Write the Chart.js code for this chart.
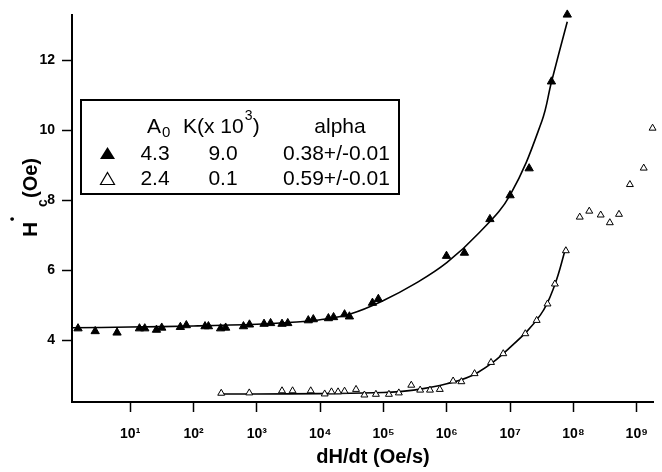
<!DOCTYPE html>
<html lang="en">
<head>
  <meta charset="UTF-8"/>
  <title>Hc vs dH/dt</title>
  <script src="https://cdn.jsdelivr.net/npm/chart.js@4"></script>
  <style>
    html, body { margin: 0; padding: 0; background: #fff; }
    canvas { display: block; }
  </style>
</head>
<body>
  <canvas id="hcChart" width="662" height="472"></canvas>

  <script>
    // sweep rate (Oe/s) and coercive field (Oe)
    const filledRate = [1.5, 2.8, 6.2, 14, 17, 26, 31.5, 62, 77, 152, 172, 268, 322, 615, 765, 1300, 1650,
      2500, 3080, 6500, 7800, 13500, 16300, 24300, 29000, 67000, 83000, 9.9e5, 1.9e6, 4.8e6, 1.0e7, 2.0e7, 4.5e7, 8.0e7];
    const filledHc = [4.34, 4.26, 4.22, 4.34, 4.34, 4.30, 4.36, 4.38, 4.43, 4.40, 4.40, 4.34, 4.36, 4.40, 4.45, 4.47, 4.49,
      4.47, 4.49, 4.57, 4.60, 4.63, 4.66, 4.74, 4.68, 5.07, 5.18, 6.41, 6.50, 7.46, 8.14, 8.91, 11.39, 13.30];

    const openRate = [274, 760, 2500, 3670, 7100, 11800, 15100, 19200, 24300, 36900, 50000, 76000, 122000, 175000,
      275000, 380000, 543000, 776000, 1.26e6, 1.7e6, 2.75e6, 5.0e6, 7.8e6, 1.74e7, 2.63e7, 3.9e7, 5.1e7, 7.6e7,
      1.26e8, 1.78e8, 2.7e8, 3.76e8, 5.25e8, 7.8e8, 1.29e9, 1.78e9];
    const openHc = [2.49, 2.50, 2.56, 2.56, 2.56, 2.47, 2.53, 2.53, 2.55, 2.60, 2.44, 2.46, 2.46, 2.50,
      2.72, 2.58, 2.58, 2.60, 2.84, 2.82, 3.05, 3.37, 3.62, 4.19, 4.57, 5.04, 5.61, 6.56,
      7.52, 7.69, 7.58, 7.36, 7.60, 8.45, 8.92, 10.06];

    // fitted curves
    const fitARate = [1.2, 10, 100, 1e3, 3.16e3, 1e4, 3.16e4, 1e5, 3.16e5, 1e6, 3.16e6, 1e7, 3.16e7, 4.5e7, 8e7];
    const fitAHc = [4.36, 4.38, 4.41, 4.46, 4.51, 4.59, 4.77, 5.14, 5.62, 6.22, 7.05, 8.15, 10.25, 11.38, 13.1];
    const fitBRate = [260, 1e3, 1e4, 1e5, 3e5, 1e6, 3e6, 1e7, 3e7, 5e7, 7.6e7];
    const fitBHc = [2.47, 2.47, 2.48, 2.51, 2.58, 2.76, 3.07, 3.80, 4.72, 5.55, 6.65];

    const xTickValues = [1e1, 1e2, 1e3, 1e4, 1e5, 1e6, 1e7, 1e8, 1e9];
    const yTickValues = [4, 6, 8, 10, 12];

    const legendHead = ['A', 'K(x 10', 'alpha'];
    const legendA0 = ['4.3', '2.4'];
    const legendK = ['9.0', '0.1'];
    const legendAlpha = ['0.38+/-0.01', '0.59+/-0.01'];

    const FONT = "'Liberation Sans', Arial, Helvetica, sans-serif";
    const SUP = '⁰¹²³⁴⁵⁶⁷⁸⁹';

    const pts = (xs, ys) => xs.map((x, i) => ({ x, y: ys[i] }));

    function triangle(ctx, cx, top, w, h, filled) {
      ctx.beginPath();
      ctx.moveTo(cx, top);
      ctx.lineTo(cx + w / 2, top + h);
      ctx.lineTo(cx - w / 2, top + h);
      ctx.closePath();
      if (filled) { ctx.fillStyle = '#000'; ctx.fill(); }
      else { ctx.lineWidth = 1.2; ctx.strokeStyle = '#000'; ctx.stroke(); }
    }

    const extras = {
      id: 'extras',
      afterDraw(chart) {
        const ctx = chart.ctx;
        ctx.save();
        ctx.fillStyle = '#000';

        // x title
        ctx.font = 'bold 20px ' + FONT;
        ctx.textAlign = 'center';
        ctx.textBaseline = 'alphabetic';
        ctx.fillText('dH/dt (Oe/s)', 373, 463);

        // y title, rotated: H with dot superscript and c subscript
        ctx.save();
        ctx.translate(37, 237);
        ctx.rotate(-Math.PI / 2);
        ctx.textAlign = 'left';
        ctx.font = 'bold 21px ' + FONT;
        ctx.fillText('H', 0, 0);
        ctx.font = 'bold 12px ' + FONT;
        ctx.fillText('•', 16, -21);
        ctx.font = 'bold 14px ' + FONT;
        ctx.fillText('c', 30, 10);
        ctx.font = 'bold 20px ' + FONT;
        ctx.fillText('(Oe)', 39, 0);
        ctx.restore();

        // legend table
        ctx.lineWidth = 2;
        ctx.strokeStyle = '#000';
        ctx.strokeRect(81, 100, 318, 94);

        ctx.font = '21px ' + FONT;
        ctx.textAlign = 'left';
        ctx.fillText(legendHead[0], 147, 133);
        ctx.font = '15px ' + FONT;
        ctx.fillText('0', 162, 137);
        ctx.font = '21px ' + FONT;
        ctx.fillText(legendHead[1], 183, 133);
        const kw = ctx.measureText(legendHead[1]).width;
        ctx.font = '14px ' + FONT;
        ctx.fillText('3', 183 + kw + 1, 120);
        ctx.font = '21px ' + FONT;
        ctx.fillText(')', 183 + kw + 9, 133);
        ctx.textAlign = 'center';
        ctx.fillText(legendHead[2], 340, 133);

        triangle(ctx, 107.5, 147, 15, 12, true);
        triangle(ctx, 107.5, 172.5, 14, 12, false);

        ctx.fillStyle = '#000';
        [160, 185].forEach((base, i) => {
          ctx.textAlign = 'center';
          ctx.fillText(legendA0[i], 155, base);
          ctx.fillText(legendK[i], 223, base);
          ctx.textAlign = 'left';
          ctx.fillText(legendAlpha[i], 283, base);
        });
        ctx.restore();
      }
    };

    new Chart(document.getElementById('hcChart'), {
      type: 'scatter',
      data: {
        datasets: [
          {
            label: 'filled',
            data: pts(filledRate, filledHc),
            pointStyle: 'triangle',
            pointRadius: 4.8,
            backgroundColor: '#000',
            borderColor: '#000',
            borderWidth: 1,
            clip: false
          },
          {
            label: 'open',
            data: pts(openRate, openHc),
            pointStyle: 'triangle',
            pointRadius: 4,
            backgroundColor: '#fff',
            borderColor: '#000',
            borderWidth: 1,
            clip: false
          },
          {
            label: 'fit A',
            data: pts(fitARate, fitAHc),
            showLine: true,
            pointRadius: 0,
            borderColor: '#000',
            borderWidth: 1.6,
            tension: 0.4
          },
          {
            label: 'fit B',
            data: pts(fitBRate, fitBHc),
            showLine: true,
            pointRadius: 0,
            borderColor: '#000',
            borderWidth: 1.6,
            tension: 0.4
          }
        ]
      },
      options: {
        responsive: false,
        devicePixelRatio: 1,
        animation: false,
        layout: { padding: { top: 13, right: 0, left: 0, bottom: 0 } },
        plugins: {
          legend: { display: false },
          tooltip: { enabled: false }
        },
        scales: {
          x: {
            type: 'logarithmic',
            min: 1.205,
            max: 1.86e9,
            afterFit: s => { s.height = 70; },
            afterBuildTicks: s => { s.ticks = xTickValues.map(v => ({ value: v })); },
            ticks: {
              color: '#000',
              font: { family: FONT, size: 14, weight: 'bold' },
              padding: 14,
              maxRotation: 0,
              autoSkip: false,
              callback: v => '10' + SUP[Math.round(Math.log10(v))]
            },
            grid: { drawOnChartArea: false, tickLength: 10, tickColor: '#000', tickWidth: 1.5 },
            border: { color: '#000', width: 2 }
          },
          y: {
            min: 2.24,
            max: 13.28,
            afterFit: s => { s.width = 72; },
            afterBuildTicks: s => { s.ticks = yTickValues.map(v => ({ value: v })); },
            ticks: {
              color: '#000',
              font: { family: FONT, size: 14, weight: 'bold' },
              padding: 7
            },
            grid: { drawOnChartArea: false, tickLength: 10, tickColor: '#000', tickWidth: 1.5 },
            border: { color: '#000', width: 2 }
          }
        }
      },
      plugins: [extras]
    });
  </script>
</body>
</html>
